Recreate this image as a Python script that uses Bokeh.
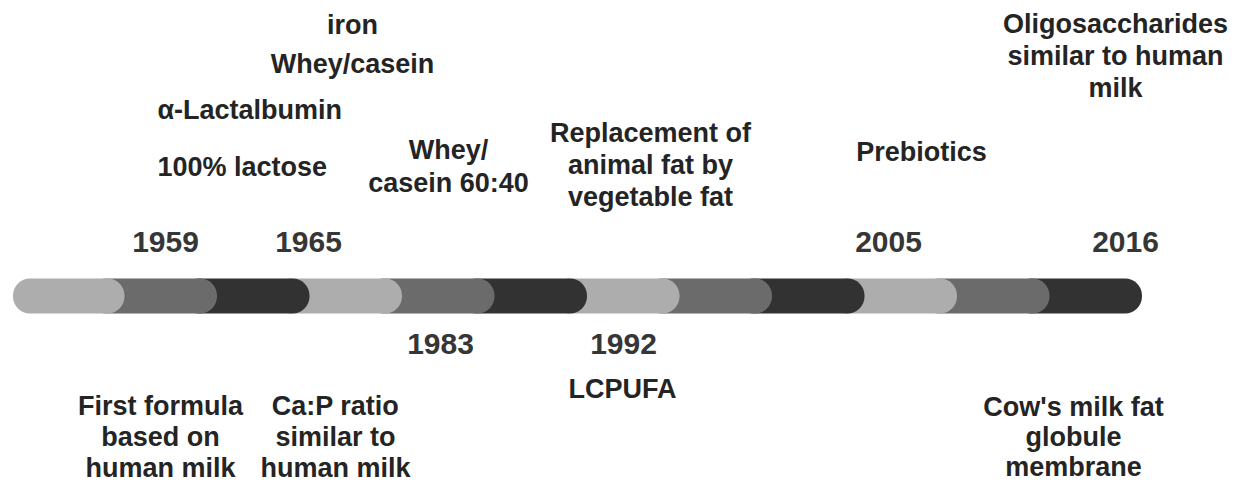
from bokeh.plotting import figure
from bokeh.models import ColumnDataSource, Range1d
from bokeh.core.properties import value
from bokeh.embed import file_html
from bokeh.resources import INLINE

# ---------------- data ----------------
segment_shades = ["light", "mid", "dark"] * 4
shade_colors = {"light": "#adadad", "mid": "#6b6b6b", "dark": "#323232"}

years = ["1959", "1965", "1983", "1992", "2005", "2016"]

milestones = [
    "100% lactose",
    "α-Lactalbumin",
    "Whey/casein",
    "iron",
    "Whey/\ncasein 60:40",
    "Replacement of\nanimal fat by\nvegetable fat",
    "Prebiotics",
    "Oligosaccharides\nsimilar to human\nmilk",
    "First formula\nbased on\nhuman milk",
    "Ca:P ratio\nsimilar to\nhuman milk",
    "LCPUFA",
    "Cow's milk fat\nglobule\nmembrane",
]

# ---------------- layout (screen-like frame) ----------------
W, H = 1232, 482
bar_start = 12.5
first_end = 124
step = 92.5
bar_y = 295.5
bar_h = 35
cap = 17.5

# baseline positions; renderer places alphabetic baseline slightly low, so nudge up
year_shift = 12
label_shift = 10

year_x = [165, 308, 440, 623, 888, 1125]
year_y = [253, 253, 355, 355, 253, 253]

ms_x = [157, 157, 352, 352, 448, 650, 921, 1115, 160, 335, 622, 1073]
ms_y = [176, 119, 73, 34, 159, 142, 161, 33, 415, 415, 398, 416]
ms_gap = [32, 32, 32, 32, 33, 32, 32, 32, 31, 31, 32, 30]
ms_align = ["left", "left", "center", "center", "center", "center",
            "center", "center", "center", "center", "center", "center"]

# ---------------- build ----------------
p = figure(width=W, height=H, x_range=Range1d(0, W), y_range=Range1d(H, 0),
           output_backend="svg", toolbar_location=None, min_border=0,
           x_axis_location=None, y_axis_location=None)
p.grid.visible = False
p.outline_line_color = None
p.background_fill_color = "white"
p.border_fill_color = "white"

n = len(segment_shades)
rights = [first_end + step * i for i in range(n)]
lefts = [bar_start] + [rights[i - 1] - 2 * cap for i in range(1, n)]
colors = [shade_colors[s] for s in segment_shades]
order = list(range(n))[::-1]
seg_src = ColumnDataSource(dict(
    left=[lefts[i] for i in order],
    right=[rights[i] for i in order],
    y=[bar_y] * n,
    color=[colors[i] for i in order],
))
p.hbar(y="y", left="left", right="right", height=bar_h, fill_color="color",
       line_color=None, border_radius=17, source=seg_src)

font = value("Liberation Sans")

p.text(x=year_x, y=[y - year_shift for y in year_y], text=years, text_align="center",
       text_baseline="alphabetic", text_font=font, text_font_style="bold",
       text_font_size=value("30px"), text_color="#363636")

groups = {"left": dict(x=[], y=[], t=[]), "center": dict(x=[], y=[], t=[])}
for label, x, y, gap, al in zip(milestones, ms_x, ms_y, ms_gap, ms_align):
    for k, line in enumerate(label.split("\n")):
        groups[al]["x"].append(x)
        groups[al]["y"].append(y + k * gap - label_shift)
        groups[al]["t"].append(line)

for al, g in groups.items():
    p.text(x=g["x"], y=g["y"], text=g["t"], text_align=al, text_baseline="alphabetic",
           text_font=font, text_font_style="bold", text_font_size=value("27px"),
           text_color="#242424")

open("out.html", "w").write(file_html(p, INLINE))
